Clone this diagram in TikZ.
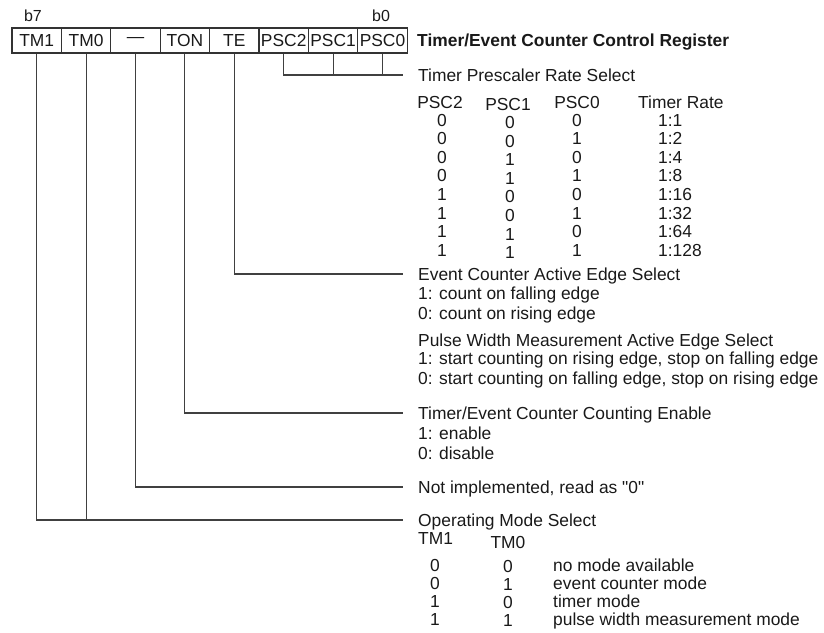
\documentclass[tikz,border=0pt]{standalone}
\usepackage{fontspec}
\setmainfont{Liberation Sans}[Ligatures=TeXOff]
\begin{document}
\begin{tikzpicture}[x=1pt,y=-1pt,
  txt/.style={inner sep=0pt, font=\fontsize{17.4}{20}\selectfont, text=black!90},
  lt/.style={txt, anchor=base west},
  ct/.style={txt, anchor=base},
  cell/.style={draw=black!80, line width=1.1pt, minimum width=49.4pt, minimum height=25pt, inner sep=0pt, font=\fontsize{17.4}{20}\selectfont, text=black!90},
  conn/.style={draw=black!75, line width=1.1pt}]
\useasboundingbox (0,0) rectangle (824,632);

% register
\node[cell] (c7) at (36.7,40.5) {TM1};
\node[cell] (c6) at (86.1,40.5) {TM0};
\node[cell] (c5) at (135.5,40.5) {—};
\node[cell] (c4) at (184.9,40.5) {TON};
\node[cell] (c3) at (234.3,40.5) {TE};
\node[cell] (c2) at (283.7,40.5) {PSC2};
\node[cell] (c1) at (333.1,40.5) {PSC1};
\node[cell] (c0) at (382.5,40.5) {PSC0};
\node[ct, font=\fontsize{16}{18}\selectfont] (b7) at (33,21) {b7};
\node[ct, font=\fontsize{16}{18}\selectfont] (b0) at (381,21) {b0};
\node[lt, font=\bfseries\fontsize{17.4}{20}\selectfont] (title) at (417,46.7) {Timer/Event Counter Control Register};

% prescaler
\node[lt] (psel) at (418,81.2) {Timer Prescaler Rate Select};
\node[ct] (h2) at (440,108.2) {PSC2};
\node[ct] (h1) at (508,110.5) {PSC1};
\node[ct] (h0) at (577,108.2) {PSC0};
\node[lt] (hr) at (638,108.2) {Timer Rate};
\foreach \i/\a/\b/\c/\r in {0/0/0/0/1:1,1/0/0/1/1:2,2/0/1/0/1:4,3/0/1/1/1:8,4/1/0/0/1:16,5/1/0/1/1:32,6/1/1/0/1:64,7/1/1/1/1:128}{
  \pgfmathsetmacro{\yy}{126.2+18.57*\i}
  \node[ct] (pa\i) at (442,\yy) {\a};
  \node[ct] (pb\i) at (510,\yy+2.5) {\b};
  \node[ct] (pc\i) at (577,\yy) {\c};
  \node[lt] (pr\i) at (658,\yy) {\r};
}

% TE
\node[lt] (te) at (418,280.2) {Event Counter Active Edge Select};
\node[lt] (te1) at (418,299.2) {1: count on falling edge};
\node[lt] (te0) at (418,319.2) {0: count on rising edge};
\node[lt] (pw) at (418,346.2) {Pulse Width Measurement Active Edge Select};
\node[lt] (pw1) at (418,364.2) {1: start counting on rising edge, stop on falling edge};
\node[lt] (pw0) at (418,384.2) {0: start counting on falling edge, stop on rising edge};

% TON
\node[lt] (ton) at (418,419.2) {Timer/Event Counter Counting Enable};
\node[lt] (ton1) at (418,439.2) {1: enable};
\node[lt] (ton0) at (418,459.2) {0: disable};

% not implemented
\node[lt] (ni) at (418,493.2) {Not implemented, read as "0"};

% operating mode
\node[lt] (opm) at (418,526.2) {Operating Mode Select};
\node[lt] (tmh1) at (418,544.2) {TM1};
\node[ct] (tmh0) at (508,548.2) {TM0};
\foreach \i/\a/\b/\d in {0/0/0/no mode available,1/0/1/event counter mode,2/1/0/timer mode,3/1/1/pulse width measurement mode}{
  \pgfmathsetmacro{\yy}{571.2+18*\i}
  \node[ct] (ma\i) at (435,\yy) {\a};
  \node[ct] (mb\i) at (508,\yy+1.5) {\b};
  \node[lt] (md\i) at (553,\yy) {\d};
}

% connector ends
\coordinate (ePSC) at (403,75);
\coordinate (eTE) at (403,274);
\coordinate (eTON) at (403,413);
\coordinate (eNI) at (403,487);
\coordinate (eOPM) at (403,520);

\draw[conn] (c2.south) |- (ePSC);
\draw[conn] (c1.south) -- (c1.south |- ePSC);
\draw[conn] (c0.south) -- (c0.south |- ePSC);
\draw[conn] (c3.south) |- (eTE);
\draw[conn] (c4.south) |- (eTON);
\draw[conn] (c5.south) |- (eNI);
\draw[conn] (c7.south) |- (eOPM);
\draw[conn] (c6.south) -- (c6.south |- eOPM);
\end{tikzpicture}
\end{document}
